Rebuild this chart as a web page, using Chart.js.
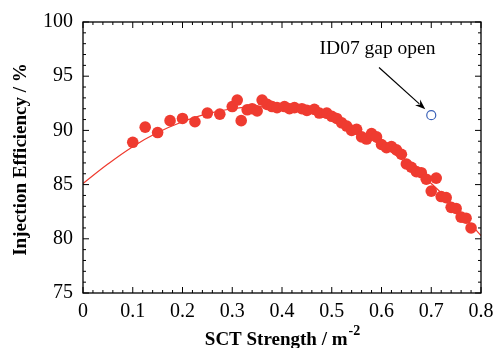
<!DOCTYPE html>
<html>
<head>
<meta charset="utf-8">
<script src="https://cdn.jsdelivr.net/npm/chart.js@4/dist/chart.umd.min.js"></script>
<style>
  html, body { margin: 0; padding: 0; background: #fff; }
  #wrap { width: 493px; height: 348px; }
</style>
</head>
<body>
<div id="wrap"><canvas id="chart-area"></canvas></div>
<script>
'use strict';

// measured points (SCT strength, efficiency)
var sctX = [0.10, 0.125, 0.15, 0.175, 0.20, 0.225, 0.25, 0.275, 0.30, 0.31,
  0.318, 0.33, 0.34, 0.35, 0.36, 0.37, 0.38, 0.39, 0.405, 0.415,
  0.425, 0.44, 0.45, 0.465, 0.475, 0.49, 0.50, 0.51, 0.52, 0.53,
  0.54, 0.55, 0.56, 0.57, 0.58, 0.59, 0.60, 0.61, 0.62, 0.63,
  0.64, 0.65, 0.66, 0.67, 0.68, 0.69, 0.70, 0.71, 0.72, 0.73,
  0.74, 0.75, 0.76, 0.77, 0.78];
var effY = [88.9, 90.3, 89.8, 90.9, 91.1, 90.8, 91.6, 91.5, 92.2, 92.8,
  90.9, 91.9, 92.0, 91.8, 92.8, 92.4, 92.2, 92.1, 92.2, 92.0,
  92.1, 92.0, 91.85, 91.95, 91.6, 91.6, 91.3, 91.1, 90.7, 90.4,
  90.0, 90.1, 89.4, 89.2, 89.7, 89.4, 88.7, 88.4, 88.5, 88.2,
  87.8, 86.9, 86.6, 86.2, 86.1, 85.5, 84.4, 85.6, 83.9, 83.8,
  82.9, 82.8, 82.0, 81.9, 81.0];

// fitted curve
var fitX = [0, 0.05, 0.1, 0.15, 0.2, 0.25, 0.3, 0.35, 0.4, 0.45, 0.5, 0.55, 0.6, 0.65, 0.7, 0.75, 0.8];
var fitY = [85.1, 86.9, 88.5, 89.8, 90.8, 91.55, 92.0, 92.2, 92.05, 91.65, 90.95, 89.9, 88.6, 87.0, 85.1, 82.85, 80.3];

// ID07 gap open point
var gapX = [0.70];
var gapY = [91.4];

var xTicks = [0, 0.1, 0.2, 0.3, 0.4, 0.5, 0.6, 0.7, 0.8];
var yTicks = [75, 80, 85, 90, 95, 100];

function pairs(xs, ys){
  var out = [];
  for (var i = 0; i < xs.length; i++) out.push({x: xs[i], y: ys[i]});
  return out;
}

var FONT = '"Liberation Serif", "Times New Roman", serif';

// frame, inward ticks, titles and annotation
var framePlugin = {
  id: 'frame',
  afterDraw: function(chart){
    var ctx = chart.ctx, a = chart.chartArea;
    var xs = chart.scales.x, ys = chart.scales.y;
    ctx.save();
    ctx.strokeStyle = '#000';
    ctx.lineWidth = 1.3;
    ctx.strokeRect(a.left, a.top, a.right - a.left, a.bottom - a.top);
    ctx.lineWidth = 1;
    ctx.beginPath();
    var i, p, len;
    for (i = 0; i <= 40; i++) {
      p = xs.getPixelForValue(i * 0.02);
      len = (i % 5 === 0) ? 6 : 3;
      ctx.moveTo(p, a.bottom); ctx.lineTo(p, a.bottom - len);
      ctx.moveTo(p, a.top); ctx.lineTo(p, a.top + len);
    }
    for (i = 75; i <= 100; i++) {
      p = ys.getPixelForValue(i);
      len = (i % 5 === 0) ? 6 : 3;
      ctx.moveTo(a.left, p); ctx.lineTo(a.left + len, p);
      ctx.moveTo(a.right, p); ctx.lineTo(a.right - len, p);
    }
    ctx.stroke();

    // y title
    ctx.fillStyle = '#000';
    ctx.font = 'bold 19px ' + FONT;
    ctx.textAlign = 'center';
    ctx.textBaseline = 'middle';
    ctx.save();
    ctx.translate(21, (a.top + a.bottom) / 2 + 2);
    ctx.rotate(-Math.PI / 2);
    ctx.fillText('Injection Efficiency / %', 0, 0);
    ctx.restore();

    // x title with superscript
    var main = 'SCT Strength / m', sup = '-2';
    ctx.font = 'bold 19px ' + FONT;
    var w1 = ctx.measureText(main).width;
    ctx.font = 'bold 14px ' + FONT;
    var w2 = ctx.measureText(sup).width;
    var x0 = (a.left + a.right) / 2 - (w1 + w2) / 2;
    ctx.textAlign = 'left';
    ctx.textBaseline = 'alphabetic';
    ctx.font = 'bold 19px ' + FONT;
    ctx.fillText(main, x0, 345);
    ctx.font = 'bold 14px ' + FONT;
    ctx.fillText(sup, x0 + w1 + 1, 335);

    // annotation
    ctx.font = '19.5px ' + FONT;
    ctx.textAlign = 'center';
    ctx.textBaseline = 'middle';
    ctx.fillText('ID07 gap open', xs.getPixelForValue(0.592), ys.getPixelForValue(97.5));
    var sx = xs.getPixelForValue(0.595), sy = ys.getPixelForValue(95.8);
    var ex = xs.getPixelForValue(0.688), ey = ys.getPixelForValue(91.95);
    var ang = Math.atan2(ey - sy, ex - sx);
    ctx.lineWidth = 1.2;
    ctx.beginPath();
    ctx.moveTo(sx, sy);
    ctx.lineTo(ex - 8 * Math.cos(ang), ey - 8 * Math.sin(ang));
    ctx.stroke();
    ctx.beginPath();
    ctx.moveTo(ex, ey);
    ctx.lineTo(ex - 11 * Math.cos(ang - 0.35), ey - 11 * Math.sin(ang - 0.35));
    ctx.lineTo(ex - 7 * Math.cos(ang), ey - 7 * Math.sin(ang));
    ctx.lineTo(ex - 11 * Math.cos(ang + 0.35), ey - 11 * Math.sin(ang + 0.35));
    ctx.closePath();
    ctx.fill();
    ctx.restore();
  }
};

var config = {
  type: 'scatter',
  data: {
    datasets: [{
      label: 'fit',
      data: pairs(fitX, fitY),
      showLine: true,
      borderColor: '#ef3a2e',
      borderWidth: 1.2,
      pointRadius: 0,
      tension: 0.4,
      order: 2
    }, {
      label: 'measured',
      data: pairs(sctX, effY),
      backgroundColor: '#ef3b30',
      borderColor: '#ef3b30',
      pointRadius: 5.8,
      pointBorderWidth: 0,
      order: 1
    }, {
      label: 'ID07 gap open',
      data: pairs(gapX, gapY),
      backgroundColor: 'rgba(0,0,0,0)',
      borderColor: '#3b62b8',
      pointRadius: 4.5,
      pointBorderWidth: 1.2,
      order: 0
    }]
  },
  options: {
    responsive: true,
    maintainAspectRatio: false,
    animation: false,
    layout: { padding: { left: 0, right: 12, top: 22, bottom: 0 } },
    plugins: {
      legend: { display: false },
      tooltip: { enabled: false }
    },
    scales: {
      x: {
        type: 'linear',
        min: 0, max: 0.8,
        grid: { display: false, drawTicks: false },
        border: { display: false },
        afterBuildTicks: function(s){ s.ticks = xTicks.map(function(v){ return {value: v}; }); },
        afterFit: function(s){ s.height = 55; s.paddingLeft = 0; s.paddingRight = 0; },
        ticks: {
          color: '#000',
          padding: 7,
          maxRotation: 0,
          font: { family: FONT, size: 20 },
          callback: function(v){ return String(v); }
        }
      },
      y: {
        type: 'linear',
        min: 75, max: 100,
        grid: { display: false, drawTicks: false },
        border: { display: false },
        afterBuildTicks: function(s){ s.ticks = yTicks.map(function(v){ return {value: v}; }); },
        afterFit: function(s){ s.width = 83; s.paddingTop = 0; s.paddingBottom = 0; },
        ticks: {
          color: '#000',
          padding: 10,
          font: { family: FONT, size: 20 }
        }
      }
    }
  },
  plugins: [framePlugin]
};

var ctx = document.getElementById('chart-area').getContext('2d');
window.myChart = new Chart(ctx, config);
</script>
</body>
</html>
